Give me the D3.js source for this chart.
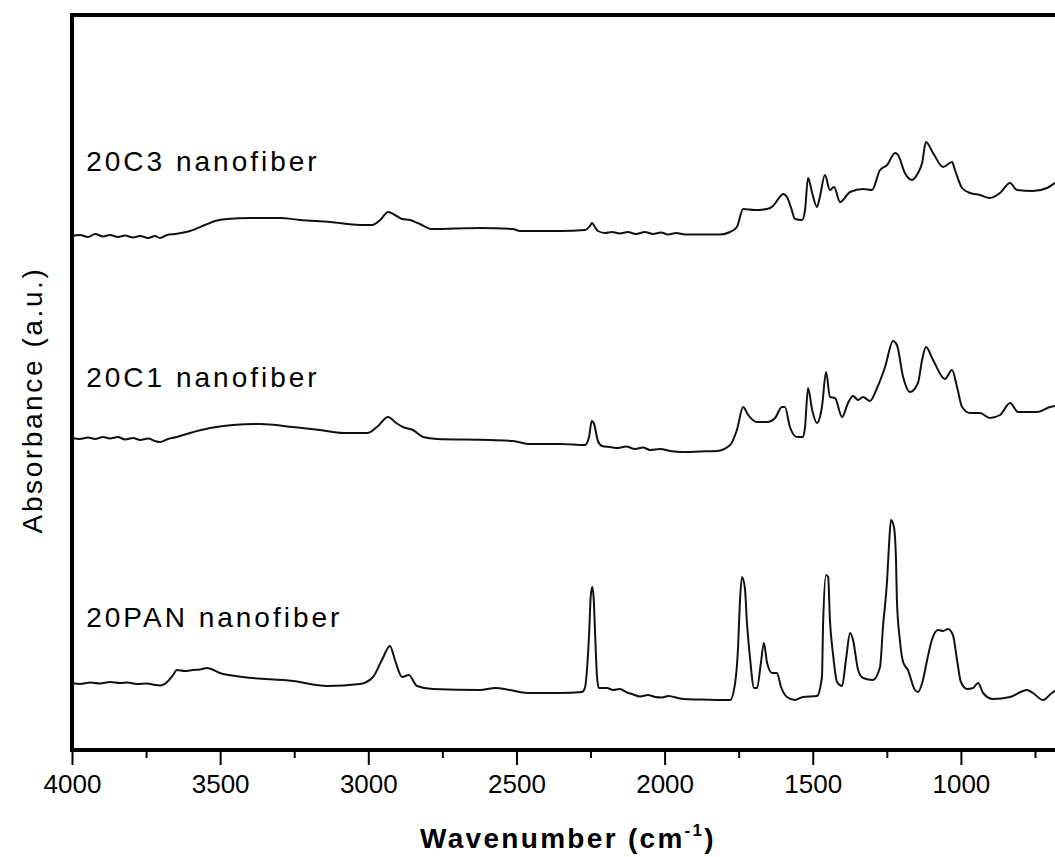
<!DOCTYPE html>
<html>
<head>
<meta charset="utf-8">
<script src="https://cdn.jsdelivr.net/npm/d3@7"></script>
<style>
  body { margin: 0; background: #fff; }
  svg { display: block; font-family: "Liberation Sans", Arial, sans-serif; }
</style>
</head>
<body>
<div id="my_spectra"></div>
<script>

// ---- data: [wavenumber (cm-1), absorbance (a.u., offset traces)] ----
var c3Spectrum = [
  [4000,5.14],[3973,5.15],[3946,5.13],[3922,5.16],[3895,5.135],[3872,5.15],[3845,5.13],
  [3821,5.145],[3794,5.125],[3770,5.14],[3743,5.12],[3720,5.14],[3703,5.12],[3679,5.15],
  [3652,5.16],[3602,5.19],[3551,5.25],[3517,5.29],[3477,5.31],[3399,5.32],[3298,5.32],
  [3230,5.30],[3129,5.28],[3028,5.25],[2987,5.25],[2960,5.30],[2933,5.38],[2910,5.35],
  [2886,5.31],[2859,5.30],[2826,5.26],[2785,5.21],[2623,5.22],[2512,5.21],[2488,5.19],
  [2353,5.19],[2269,5.20],[2252,5.24],[2245,5.27],[2235,5.23],[2225,5.19],[2201,5.17],
  [2178,5.18],[2151,5.165],[2124,5.18],[2097,5.16],[2066,5.18],[2039,5.16],[2012,5.175],
  [1988,5.155],[1961,5.17],[1931,5.155],[1904,5.155],[1813,5.155],[1779,5.18],[1756,5.23],
  [1735,5.41],[1695,5.40],[1654,5.41],[1634,5.44],[1614,5.52],[1600,5.56],[1587,5.53],
  [1573,5.42],[1560,5.31],[1536,5.30],[1526,5.40],[1516,5.72],[1502,5.57],[1486,5.43],
  [1476,5.53],[1459,5.75],[1442,5.60],[1428,5.63],[1408,5.48],[1374,5.58],[1330,5.61],
  [1300,5.60],[1273,5.80],[1249,5.85],[1222,5.97],[1212,5.95],[1189,5.77],[1165,5.70],
  [1145,5.77],[1131,5.87],[1118,6.08],[1094,5.97],[1060,5.83],[1030,5.88],[1020,5.80],
  [996,5.62],[969,5.57],[936,5.55],[902,5.52],[868,5.57],[834,5.67],[811,5.60],
  [757,5.59],[709,5.62],[682,5.67],[666,5.69]
];

var c1Spectrum = [
  [4000,3.12],[3973,3.11],[3946,3.125],[3922,3.11],[3895,3.13],[3872,3.115],[3845,3.13],
  [3821,3.105],[3794,3.12],[3770,3.10],[3743,3.115],[3720,3.09],[3703,3.08],[3676,3.11],
  [3646,3.13],[3602,3.17],[3534,3.22],[3457,3.25],[3366,3.26],[3254,3.23],[3163,3.20],
  [3085,3.17],[3004,3.17],[2971,3.23],[2933,3.33],[2906,3.27],[2883,3.23],[2849,3.20],
  [2815,3.13],[2768,3.11],[2589,3.10],[2512,3.09],[2454,3.06],[2353,3.06],[2269,3.05],
  [2255,3.13],[2246,3.29],[2238,3.26],[2225,3.09],[2211,3.04],[2184,3.03],[2157,3.02],
  [2130,3.035],[2100,3.01],[2073,3.025],[2049,3.00],[2015,3.01],[1982,2.99],[1938,2.98],
  [1881,2.985],[1823,2.99],[1779,3.05],[1756,3.20],[1735,3.43],[1718,3.35],[1688,3.28],
  [1654,3.28],[1627,3.32],[1604,3.43],[1594,3.43],[1577,3.23],[1553,3.13],[1533,3.13],
  [1526,3.23],[1516,3.62],[1502,3.40],[1486,3.27],[1469,3.43],[1455,3.78],[1442,3.53],
  [1425,3.52],[1401,3.33],[1381,3.47],[1364,3.54],[1347,3.50],[1330,3.53],[1307,3.49],
  [1283,3.62],[1256,3.83],[1229,4.09],[1216,4.05],[1195,3.73],[1172,3.58],[1145,3.67],
  [1131,3.90],[1118,4.03],[1094,3.90],[1054,3.71],[1030,3.80],[1013,3.63],[996,3.43],
  [969,3.37],[936,3.37],[902,3.32],[868,3.35],[834,3.47],[807,3.38],[743,3.38],
  [699,3.43],[682,3.44],[666,3.46]
];

var panSpectrum = [
  [4000,0.67],[3973,0.66],[3939,0.675],[3906,0.665],[3872,0.68],[3838,0.67],[3814,0.675],
  [3781,0.66],[3747,0.665],[3720,0.65],[3703,0.645],[3679,0.68],[3659,0.75],[3646,0.80],
  [3619,0.79],[3592,0.80],[3568,0.805],[3544,0.82],[3501,0.77],[3423,0.73],[3254,0.69],
  [3139,0.64],[3028,0.66],[2984,0.73],[2954,0.90],[2927,1.04],[2910,0.90],[2886,0.73],
  [2863,0.75],[2836,0.64],[2782,0.61],[2623,0.60],[2572,0.62],[2522,0.60],[2464,0.57],
  [2353,0.57],[2279,0.58],[2269,0.62],[2262,0.80],[2255,1.15],[2249,1.55],[2244,1.63],
  [2239,1.50],[2235,1.20],[2228,0.73],[2222,0.62],[2194,0.62],[2174,0.60],[2151,0.61],
  [2127,0.575],[2110,0.56],[2083,0.535],[2056,0.55],[2032,0.53],[2009,0.525],[1988,0.54],
  [1938,0.51],[1881,0.505],[1779,0.50],[1762,0.67],[1752,1.03],[1746,1.47],[1739,1.73],
  [1729,1.62],[1722,1.27],[1712,0.93],[1698,0.62],[1688,0.62],[1675,0.87],[1665,1.07],
  [1654,0.87],[1637,0.77],[1621,0.77],[1607,0.63],[1587,0.53],[1560,0.50],[1533,0.53],
  [1486,0.54],[1469,0.73],[1465,1.27],[1455,1.75],[1448,1.73],[1442,1.30],[1432,0.97],
  [1418,0.68],[1401,0.64],[1388,0.90],[1374,1.17],[1364,1.10],[1347,0.80],[1330,0.72],
  [1297,0.70],[1273,0.83],[1263,1.23],[1249,1.70],[1243,2.03],[1236,2.30],[1226,2.23],
  [1219,1.90],[1216,1.50],[1206,1.10],[1195,0.88],[1179,0.80],[1155,0.60],[1145,0.58],
  [1128,0.70],[1114,0.90],[1098,1.10],[1077,1.20],[1060,1.19],[1044,1.21],[1027,1.15],
  [1013,0.90],[1000,0.68],[979,0.61],[959,0.62],[942,0.67],[925,0.57],[892,0.51],
  [834,0.53],[777,0.60],[757,0.57],[723,0.50],[693,0.57],[682,0.59],[666,0.61]
];

var sampleNames = ["20C3 nanofiber", "20C1 nanofiber", "20PAN nanofiber"];
var majorTicks = [4000, 3500, 3000, 2500, 2000, 1500, 1000];
var minorTicks = [3750, 3250, 2750, 2250, 1750, 1250, 750];

// ---- layout ----
var W = 1055, H = 857;
var plot = {left: 72, top: 15, bottom: 750};

var svg = d3.select("#my_spectra")
  .append("svg")
  .attr("width", W)
  .attr("height", H);

// x runs from 4000 down to 400 cm-1; the right part falls outside the picture
var x = d3.scaleLinear()
  .domain([4000, 400])
  .range([plot.left, plot.left + 3600 * 0.2963]);

var y = d3.scaleLinear()
  .domain([0, 7.35])
  .range([plot.bottom, plot.top]);

var line = d3.line()
  .curve(d3.curveMonotoneX)
  .x(function(d){ return x(d[0]) })
  .y(function(d){ return y(d[1]) });

// spectra
var spectra = [c3Spectrum, c1Spectrum, panSpectrum];
svg.append("g")
  .selectAll("path")
  .data(spectra)
  .enter()
  .append("path")
    .attr("d", line)
    .attr("fill", "none")
    .attr("stroke", "#111")
    .attr("stroke-width", 2)
    .attr("stroke-linejoin", "round");

// sample labels (anchor: x in cm-1, baseline in absorbance units)
var labelAnchor = [[3952, 5.79], [3952, 3.63], [3952, 1.23]];
svg.append("g")
  .selectAll("text")
  .data(sampleNames)
  .enter()
  .append("text")
    .attr("x", function(d, i){ return x(labelAnchor[i][0]) })
    .attr("y", function(d, i){ return y(labelAnchor[i][1]) })
    .attr("font-size", 28)
    .attr("letter-spacing", 3)
    .attr("fill", "#000")
    .text(function(d){ return d });

// minor ticks
svg.append("g")
  .attr("transform", "translate(0," + plot.bottom + ")")
  .call(d3.axisBottom(x).tickValues(minorTicks).tickSize(8).tickFormat(""))
  .call(function(g){ g.select(".domain").remove() })
  .selectAll("line").attr("stroke", "#000").attr("stroke-width", 2);

// major ticks + labels
var xAxis = svg.append("g")
  .attr("transform", "translate(0," + plot.bottom + ")")
  .call(d3.axisBottom(x).tickValues(majorTicks).tickSize(15).tickPadding(10)
        .tickFormat(d3.format("d")));
xAxis.select(".domain").remove();
xAxis.selectAll("line").attr("stroke", "#000").attr("stroke-width", 2);
xAxis.selectAll("text")
  .attr("font-size", 26)
  .attr("font-family", "'Liberation Sans', Arial, sans-serif")
  .attr("fill", "#000");

// frame (right side is cut off by the picture)
svg.append("path")
  .attr("d", "M" + (W + 10) + "," + plot.top + "H" + plot.left + "V" + plot.bottom + "H" + (W + 10))
  .attr("fill", "none")
  .attr("stroke", "#000")
  .attr("stroke-width", 4)
  .attr("stroke-linecap", "square");

// axis titles
var xTitle = svg.append("text")
  .attr("x", 568)
  .attr("y", 848)
  .attr("text-anchor", "middle")
  .attr("font-size", 28)
  .attr("font-weight", "bold")
  .attr("letter-spacing", 2.3)
  .attr("fill", "#000");
xTitle.append("tspan").text("Wavenumber (cm");
xTitle.append("tspan").attr("dy", -12).attr("font-size", 17).text("-1");
xTitle.append("tspan").attr("dy", 12).text(")");

svg.append("text")
  .attr("transform", "translate(42,400) rotate(-90)")
  .attr("text-anchor", "middle")
  .attr("font-size", 28)
  .attr("letter-spacing", 2.6)
  .attr("fill", "#000")
  .text("Absorbance (a.u.)");

</script>
</body>
</html>
